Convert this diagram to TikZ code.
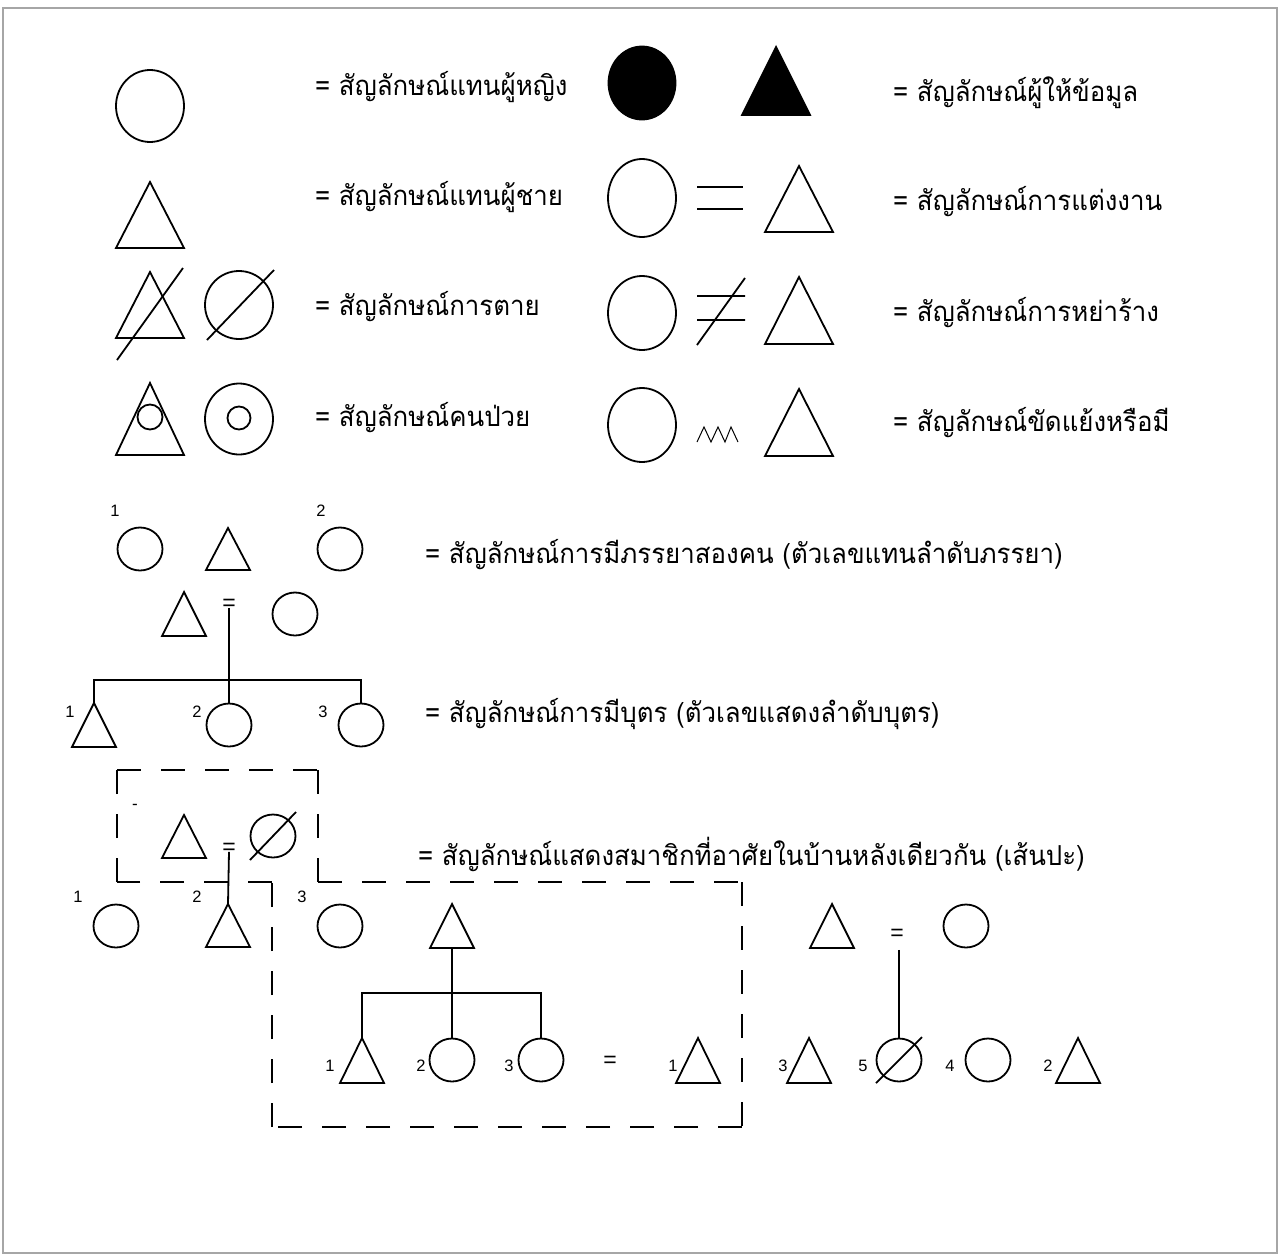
\documentclass[tikz,border=0pt]{standalone}
\usepackage{fontspec}
\usetikzlibrary{shapes.geometric}
\newfontfamily\thaifont[Script=Thai,FakeStretch=0.94]{Loma}
\newfontfamily\numfont{Liberation Sans}
% triangle: [opts]{name}{apex x}{apex y}{half width}{height}
\newcommand\mytri[6][]{%
  \coordinate (#2) at (#3,#4);
  \coordinate (#2-base) at (#3,#4+#6);
  \draw[shp,#1] (#2) -- ++(#5,#6) -- ++(-2*#5,0) -- cycle;
}
\begin{document}
\begin{tikzpicture}[x=1pt,y=-1pt,line join=miter,
  shp/.style={draw=black,line width=1.8pt},
  fem/.style={shp,ellipse,inner sep=0pt,minimum width=68pt,minimum height=72pt},
  femS/.style={shp,ellipse,inner sep=0pt,minimum width=45pt,minimum height=43pt},
  lbl/.style={anchor=base west,inner sep=0pt,font=\thaifont\fontsize{27.5}{30}\selectfont},
  num/.style={inner sep=0pt,font=\numfont\fontsize{16.5}{18}\selectfont},
  eqs/.style={inner sep=0pt,font=\numfont\fontsize{23}{25}\selectfont},
  lnk/.style={line width=1.8pt},
  thin/.style={line width=1pt},
  house/.style={line width=1.8pt,dash pattern=on 24pt off 20pt}]
\useasboundingbox (0,0) rectangle (1280,1256);
\fill[white] (0,0) rectangle (1280,1256);
\draw[gray!70,line width=1.5pt] (3,8) rectangle (1277,1253);

% ---- row 1
\node[fem] (f1) at (150,106) {};
\node[lbl] (t1) at (315,95) {= สัญลักษณ์แทนผู้หญิง};
\node[fem,fill=black,minimum width=67pt,minimum height=73pt] (inf1) at (642,83) {};
\mytri[fill=black]{inf2}{776}{47}{34}{68}
\node[lbl] (t2) at (893,101) {= สัญลักษณ์ผู้ให้ข้อมูล};

% ---- row 2
\mytri{m1}{150}{182}{34}{66}
\node[lbl] (t3) at (315,205) {= สัญลักษณ์แทนผู้ชาย};
\node[fem,minimum height=78pt] (w2) at (642,198) {};
\draw[lnk] (697,187) -- (743,187) (697,209) -- (743,209);
\mytri{h2}{799}{166}{34}{66}
\node[lbl] (t4) at (893,210) {= สัญลักษณ์การแต่งงาน};

% ---- row 3
\mytri{d1}{150}{272}{34}{66}
\draw[lnk] (117,360) -- (183,268);
\node[fem,minimum height=68pt] (d2) at (239,305) {};
\draw[lnk] (207,340) -- (274,270);
\node[lbl] (t5) at (315,315) {= สัญลักษณ์การตาย};
\node[fem,minimum height=74pt] (w3) at (642,313) {};
\draw[lnk] (697,296) -- (745,296) (697,320) -- (745,320) (697,345) -- (745,278);
\mytri{h3}{799}{277}{34}{67}
\node[lbl] (t6) at (893,321) {= สัญลักษณ์การหย่าร้าง};

% ---- row 4
\mytri{s1}{150}{383}{34}{72}
\node[shp,circle,inner sep=0pt,minimum size=25pt] (s1in) at (150,417) {};
\node[fem,minimum height=71pt] (s2) at (239,419) {};
\node[shp,circle,inner sep=0pt,minimum size=23pt] (s2in) at (239,418) {};
\node[lbl] (t7) at (315,426) {= สัญลักษณ์คนป่วย};
\node[fem,minimum height=74pt] (w4) at (642,425) {};
\draw[thin] (697,442) -- (704,427) -- (711,442) -- (718,427) -- (725,442) -- (731,427) -- (738,442);
\mytri{h4}{799}{389}{34}{67}
\node[lbl] (t8) at (893,431) {= สัญลักษณ์ขัดแย้งหรือมี};

% ---- row 5: two wives
\node[num] (n51) at (115,511) {1};
\node[femS] (a1) at (140,549) {};
\mytri{a2}{228}{528}{22}{42}
\node[num] (n52) at (321,511) {2};
\node[femS] (a3) at (340,549) {};
\node[lbl] (t9) at (425,563) {= สัญลักษณ์การมีภรรยาสองคน (ตัวเลขแทนลำดับภรรยา)};

% ---- row 6: children
\mytri{b1}{184}{592}{22}{44}
\node[eqs] (beq) at (229,605) {=};
\node[femS] (b2) at (295,614) {};
\coordinate (bbar) at (229,680);
\mytri{k1}{94}{703}{22}{44}
\node[num] (n61) at (70,712) {1};
\node[femS] (k2) at (229,725) {};
\node[num] (n62) at (197,712) {2};
\node[femS] (k3) at (361,725) {};
\node[num] (n63) at (323,712) {3};
\draw[lnk] ([yshift=3pt]beq.south) -- (k2.north);
\draw[lnk] (k1) |- (bbar) -| (k3.north);
\node[lbl] (t10) at (425,722) {= สัญลักษณ์การมีบุตร (ตัวเลขแสดงลำดับบุตร)};

% ---- row 7: household
\draw[house] (117,770) -- (318,770) (318,770) -- (318,882) (318,882) -- (742,882)
  (742,882) -- (742,1127) (742,1127) -- (272,1127) (272,1127) -- (272,882)
  (272,882) -- (117,882) (117,882) -- (117,770);
\node[num,font=\numfont\fontsize{17}{18}\selectfont] (stray) at (135,807) {-};
\mytri{c1}{184}{815}{22}{43}
\node[eqs] (ceq) at (229,849) {=};
\node[femS] (c2) at (273,836) {};
\draw[lnk] (250,860) -- (296,812);
\node[lbl] (t11) at (418,865) {= สัญลักษณ์แสดงสมาชิกที่อาศัยในบ้านหลังเดียวกัน (เส้นปะ)};

% ---- row 8
\node[num] (n81) at (78,897) {1};
\node[femS] (e1) at (116,926) {};
\node[num] (n82) at (197,897) {2};
\mytri{e2}{228}{904}{22}{43}
\draw[lnk] ([yshift=3pt]ceq.south) -- (e2);
\node[num] (n83) at (302,897) {3};
\node[femS] (e3) at (340,926) {};
\mytri{g0}{452}{904}{22}{44}
\coordinate (gbar) at (452,993);
\mytri{g1}{362}{1038}{22}{45}
\node[num] (n91) at (330,1066) {1};
\node[femS] (g2) at (452,1060) {};
\node[num] (n92) at (421,1066) {2};
\node[femS] (g3) at (541,1060) {};
\node[num] (n93) at (509,1066) {3};
\draw[lnk] (g0-base) -- (g2.north);
\draw[lnk] (g1) |- (gbar) -| (g3.north);
\node[eqs] (geq) at (610,1062) {=};
\mytri{g4}{698}{1038}{22}{45}
\node[num] (n94) at (673,1066) {1};

% ---- right group
\mytri{r1}{832}{904}{22}{44}
\node[eqs] (req) at (897,935) {=};
\node[femS] (r2) at (966,926) {};
\mytri{r3}{809}{1038}{22}{45}
\node[num] (n95) at (783,1066) {3};
\node[femS] (r5) at (899,1060) {};
\draw[lnk] (876,1083) -- (922,1037);
\node[num] (n96) at (863,1066) {5};
\node[femS] (r4) at (988,1060) {};
\node[num] (n97) at (950,1066) {4};
\mytri{r6}{1078}{1038}{22}{45}
\node[num] (n98) at (1048,1066) {2};
\draw[lnk] ([yshift=-9pt]r5.north |- req.south) -- (r5.north);
\end{tikzpicture}
\end{document}
